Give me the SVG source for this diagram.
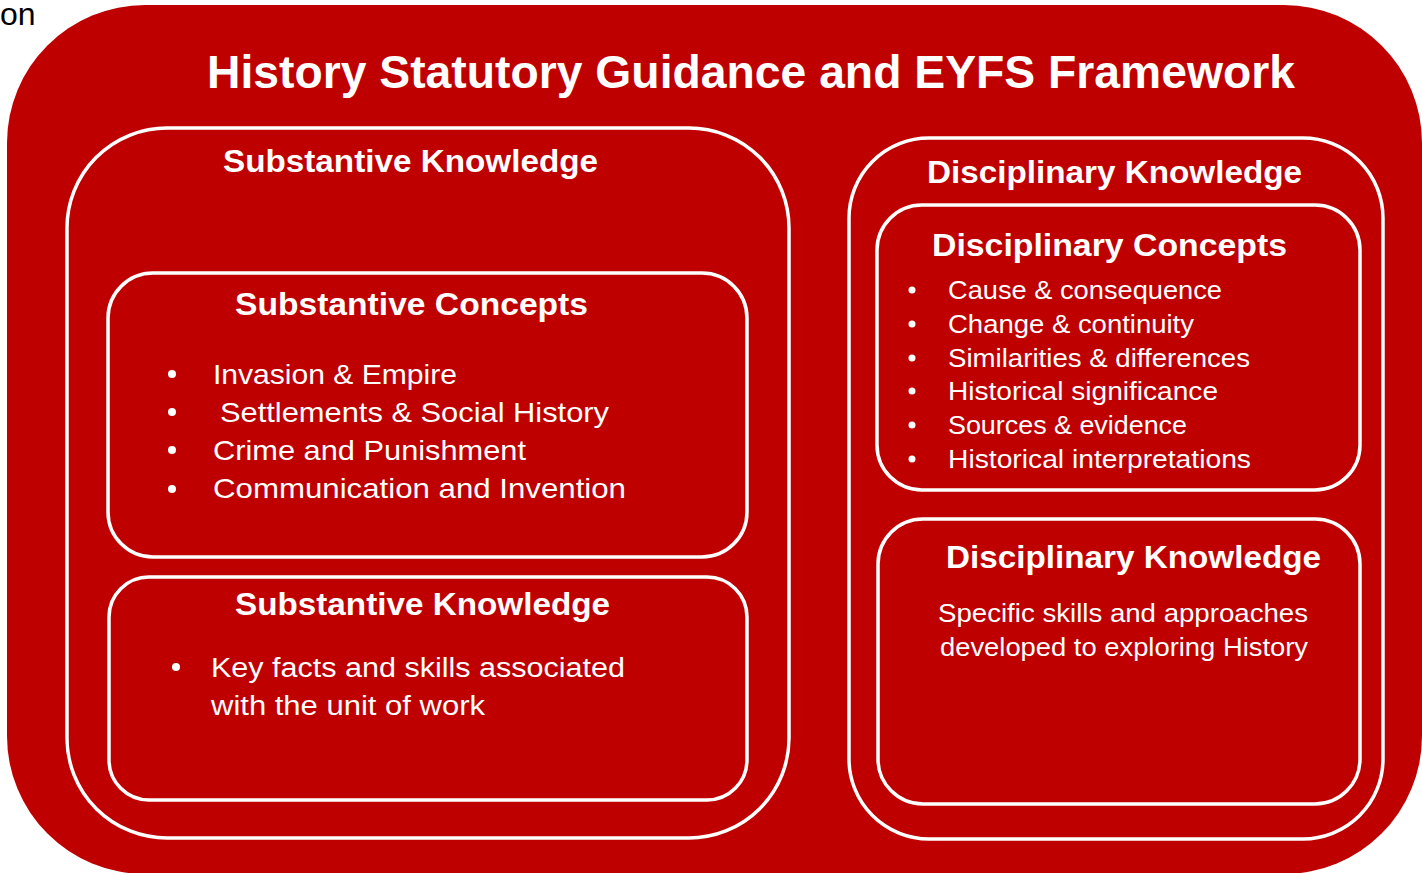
<svg xmlns="http://www.w3.org/2000/svg" width="1422" height="873" viewBox="0 0 1422 873">
<style>
.box{fill:none;stroke:#FFFFFF;stroke-width:3.5}
.h{font-family:"Liberation Sans",Arial,sans-serif;font-weight:bold;fill:#FFFFFF}
.t{font-family:"Liberation Sans",Arial,sans-serif;fill:#FFFFFF}
.b{fill:#FFFFFF}
</style>
<rect width="1422" height="873" fill="#FFFFFF"/>
<text x="0" y="25" font-family="'Liberation Sans',Arial,sans-serif" font-size="32" fill="#000000">on</text>
<g id="framework">
<rect x="7" y="5" width="1415" height="869" rx="138" ry="138" fill="#BF0000"/>
<text class="h" x="207" y="88" font-size="46" textLength="1088" lengthAdjust="spacingAndGlyphs">History Statutory Guidance and EYFS Framework</text>
</g>
<g id="substantive-knowledge">
<rect class="box" x="67" y="128" width="722" height="710" rx="100" ry="100"/>
<text class="h" x="223" y="172" font-size="32" textLength="375" lengthAdjust="spacingAndGlyphs">Substantive Knowledge</text>
</g>
<g id="substantive-concepts">
<rect class="box" x="108" y="273" width="639" height="284" rx="45" ry="45"/>
<text class="h" x="235" y="315" font-size="32" textLength="353" lengthAdjust="spacingAndGlyphs">Substantive Concepts</text>
<circle class="b" cx="172" cy="374" r="4"/>
<circle class="b" cx="172" cy="412" r="4"/>
<circle class="b" cx="172" cy="450" r="4"/>
<circle class="b" cx="172" cy="489" r="4"/>
<text class="t" x="213" y="384" font-size="28" textLength="244" lengthAdjust="spacingAndGlyphs">Invasion &amp; Empire</text>
<text class="t" x="220" y="422" font-size="28" textLength="389" lengthAdjust="spacingAndGlyphs">Settlements &amp; Social History</text>
<text class="t" x="213" y="460" font-size="28" textLength="313" lengthAdjust="spacingAndGlyphs">Crime and Punishment</text>
<text class="t" x="213" y="498" font-size="28" textLength="413" lengthAdjust="spacingAndGlyphs">Communication and Invention</text>
</g>
<g id="substantive-knowledge-unit">
<rect class="box" x="109" y="577" width="638" height="223" rx="40" ry="40"/>
<text class="h" x="235" y="615" font-size="32" textLength="375" lengthAdjust="spacingAndGlyphs">Substantive Knowledge</text>
<circle class="b" cx="176" cy="667" r="4"/>
<text class="t" x="211" y="677" font-size="27" textLength="414" lengthAdjust="spacingAndGlyphs">Key facts and skills associated</text>
<text class="t" x="211" y="715" font-size="27" textLength="274" lengthAdjust="spacingAndGlyphs">with the unit of work</text>
</g>
<g id="disciplinary-knowledge">
<rect class="box" x="849" y="138" width="534" height="701" rx="80" ry="80"/>
<text class="h" x="927" y="183" font-size="32" textLength="375" lengthAdjust="spacingAndGlyphs">Disciplinary Knowledge</text>
</g>
<g id="disciplinary-concepts">
<rect class="box" x="877" y="205" width="483" height="285" rx="45" ry="45"/>
<text class="h" x="932" y="256" font-size="32" textLength="355" lengthAdjust="spacingAndGlyphs">Disciplinary Concepts</text>
<circle class="b" cx="912" cy="290" r="3.5"/>
<circle class="b" cx="912" cy="324" r="3.5"/>
<circle class="b" cx="912" cy="358" r="3.5"/>
<circle class="b" cx="912" cy="391" r="3.5"/>
<circle class="b" cx="912" cy="425" r="3.5"/>
<circle class="b" cx="912" cy="459" r="3.5"/>
<text class="t" x="948" y="299" font-size="25" textLength="274" lengthAdjust="spacingAndGlyphs">Cause &amp; consequence</text>
<text class="t" x="948" y="333" font-size="25" textLength="246" lengthAdjust="spacingAndGlyphs">Change &amp; continuity</text>
<text class="t" x="948" y="367" font-size="25" textLength="302" lengthAdjust="spacingAndGlyphs">Similarities &amp; differences</text>
<text class="t" x="948" y="400" font-size="25" textLength="270" lengthAdjust="spacingAndGlyphs">Historical significance</text>
<text class="t" x="948" y="434" font-size="25" textLength="239" lengthAdjust="spacingAndGlyphs">Sources &amp; evidence</text>
<text class="t" x="948" y="468" font-size="25" textLength="303" lengthAdjust="spacingAndGlyphs">Historical interpretations</text>
</g>
<g id="disciplinary-knowledge-skills">
<rect class="box" x="878" y="519" width="482" height="285" rx="45" ry="45"/>
<text class="h" x="946" y="568" font-size="32" textLength="375" lengthAdjust="spacingAndGlyphs">Disciplinary Knowledge</text>
<text class="t" x="938" y="622" font-size="25" textLength="370" lengthAdjust="spacingAndGlyphs">Specific skills and approaches</text>
<text class="t" x="940" y="656" font-size="25" textLength="368" lengthAdjust="spacingAndGlyphs">developed to exploring History</text>
</g>
<g id="connectors"/>
</svg>
